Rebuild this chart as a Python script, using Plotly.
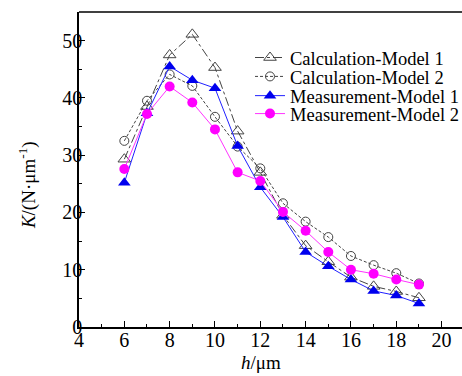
import plotly.graph_objects as go

# Gap h (um) and stiffness K (N/um)
h = [6, 7, 8, 9, 10, 11, 12, 13, 14, 15, 16, 17, 18, 19]
calc_model1 = [29.3, 38.5, 47.5, 51.1, 45.3, 34.2, 27.0, 19.5, 14.2, 11.4, 8.7, 7.1, 6.2, 5.1]
calc_model2 = [32.5, 39.5, 44.1, 42.1, 36.7, 31.5, 27.7, 21.6, 18.4, 15.7, 12.4, 10.8, 9.4, 7.6]
meas_model1 = [25.2, 37.3, 45.5, 43.1, 41.7, 31.6, 24.4, 19.2, 13.1, 10.6, 8.3, 6.3, 5.5, 4.1]
meas_model2 = [27.6, 37.2, 42.0, 39.2, 34.5, 27.0, 25.5, 20.1, 16.8, 13.1, 10.0, 9.3, 8.3, 7.4]

x_ticks = [4, 6, 8, 10, 12, 14, 16, 18, 20]
y_ticks = [0, 10, 20, 30, 40, 50]

FONT = "Liberation Serif"

fig = go.Figure()
fig.add_trace(go.Scatter(
    x=h, y=calc_model1, name="Calculation-Model 1", mode="lines+markers",
    line=dict(color="#444444", width=1, dash="dashdot"),
    marker=dict(symbol="triangle-up-open", size=11, color="#444444", line=dict(width=1)),
    legend="legend",
))
fig.add_trace(go.Scatter(
    x=h, y=calc_model2, name="Calculation-Model 2", mode="lines+markers",
    line=dict(color="#444444", width=1, dash="3px,2px"),
    marker=dict(symbol="circle-open", size=9, color="#444444", line=dict(width=1)),
    legend="legend2",
))
fig.add_trace(go.Scatter(
    x=h, y=meas_model1, name="Measurement-Model 1", mode="lines+markers",
    line=dict(color="#2020ff", width=1),
    marker=dict(symbol="triangle-up", size=11, color="#0000ee"),
    legend="legend3",
))
fig.add_trace(go.Scatter(
    x=h, y=meas_model2, name="Measurement-Model 2", mode="lines+markers",
    line=dict(color="#ff33ff", width=1),
    marker=dict(symbol="circle", size=10, color="#ff00ff"),
    legend="legend4",
))

axis_common = dict(
    showline=True, linecolor="black", linewidth=1.5,
    ticks="inside", ticklen=6, tickwidth=1.2, tickcolor="black",
    showgrid=False, zeroline=False,
    tickfont=dict(family=FONT, size=20, color="black"),
)

fig.update_xaxes(
    range=[4, 20.9], tickvals=x_ticks, ticklabelstandoff=-6,
    minor=dict(ticks="inside", ticklen=3, tickwidth=1, tickcolor="black", dtick=1, tick0=4),
    **axis_common,
)
fig.update_yaxes(
    range=[0, 55], tickvals=y_ticks, ticklabelstandoff=-9,
    minor=dict(ticks="inside", ticklen=3, tickwidth=1, tickcolor="black", dtick=5, tick0=0),
    **axis_common,
)

# Top frame line
fig.add_shape(type="line", xref="paper", yref="paper", x0=0, x1=1, y0=1, y1=1,
              line=dict(color="black", width=1.5))

fig.add_annotation(
    text="<i>K</i>/(N·μm<sup>-1</sup>)", xref="paper", yref="paper",
    x=-0.174, y=0.45, textangle=-90, showarrow=False,
    font=dict(family=FONT, size=19, color="black"),
)
fig.add_annotation(
    text="<i>h</i>/μm", xref="paper", yref="paper",
    x=0.475, y=-0.072, yanchor="top", showarrow=False,
    font=dict(family=FONT, size=19, color="black"),
)

# One legend per series so the rows can sit close together
legend_rows = [0.854, 0.794, 0.733, 0.676]
legend_style = dict(
    x=0.4465, xanchor="left", yanchor="middle",
    bgcolor="rgba(0,0,0,0)", borderwidth=0,
    font=dict(family=FONT, size=18.5, color="black"),
    itemwidth=30,
)
fig.update_layout(
    width=462, height=376,
    margin=dict(l=79, r=0, t=12, b=49, autoexpand=False),
    plot_bgcolor="white", paper_bgcolor="white",
    showlegend=True,
    legend=dict(y=legend_rows[0], **legend_style),
    legend2=dict(y=legend_rows[1], **legend_style),
    legend3=dict(y=legend_rows[2], **legend_style),
    legend4=dict(y=legend_rows[3], **legend_style),
)

fig.write_html("out.html")
